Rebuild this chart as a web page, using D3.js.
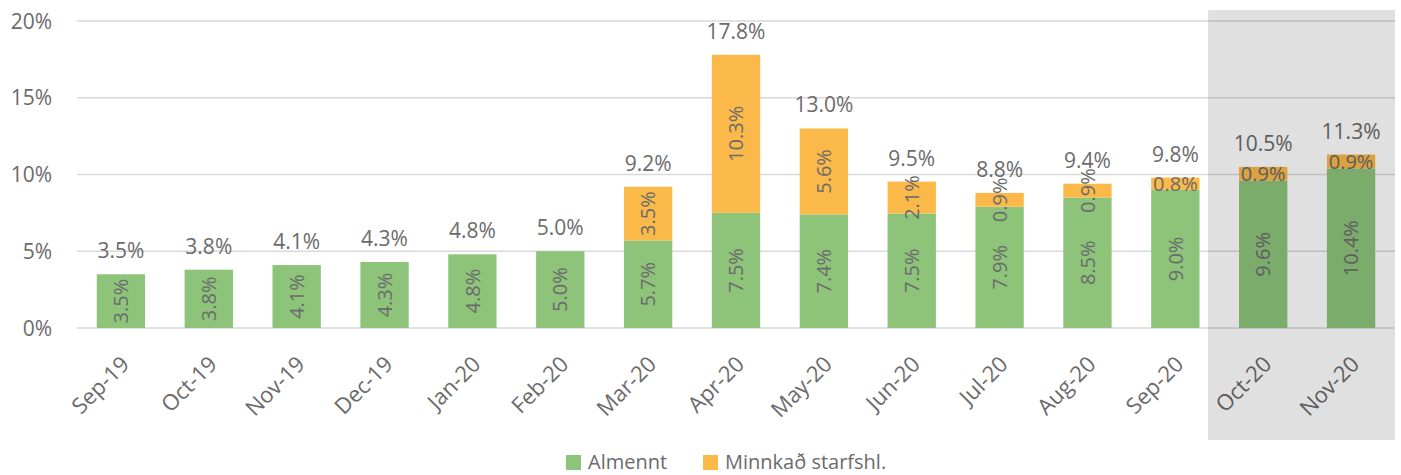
<!DOCTYPE html>
<html>
<head>
<meta charset="utf-8">
<script src="https://cdn.jsdelivr.net/npm/d3@7"></script>
<style>
  body { margin: 0; background: #fff; }
  text { font-family: "Open Sans", "Noto Sans", sans-serif; fill: #6b6b6b; }
</style>
</head>
<body>
<div id="vis"></div>
<script>
var months = ['Sep-19', 'Oct-19', 'Nov-19', 'Dec-19', 'Jan-20', 'Feb-20', 'Mar-20', 'Apr-20',
              'May-20', 'Jun-20', 'Jul-20', 'Aug-20', 'Sep-20', 'Oct-20', 'Nov-20'];
var almennt = [3.5, 3.8, 4.1, 4.3, 4.8, 5.0, 5.7, 7.5, 7.4, 7.46, 7.9, 8.5, 9.0, 9.6, 10.4];
var minnkad = [0, 0, 0, 0, 0, 0, 3.5, 10.3, 5.6, 2.08, 0.9, 0.9, 0.8, 0.9, 0.9];
var yTicks = [0, 5, 10, 15, 20];
var shaded = ['Oct-20', 'Nov-20'];
var seriesNames = ['Almennt', 'Minnkað starfshl.'];

var width = 1401, height = 475;
var margin = {left: 77, right: 6, top: 21, bottom: 147};
var drawWidth = width - margin.left - margin.right,
    drawHeight = height - margin.top - margin.bottom;

var colors = {green: '#8DC47A', orange: '#FBB94A'};
var fmt = d3.format('.1f');

var svg = d3.select('#vis').append('svg')
    .attr('width', width).attr('height', height);
var g = svg.append('g').attr('transform', `translate(${margin.left},${margin.top})`);

var xScale = d3.scaleBand().domain(months).range([0, drawWidth]).paddingInner(0.45).paddingOuter(0.225);
var yScale = d3.scaleLinear().domain([0, 20]).range([drawHeight, 0]);

// gridlines
g.selectAll('.grid').data(yTicks).enter().append('line')
    .attr('x1', 0).attr('x2', drawWidth)
    .attr('y1', d => yScale(d)).attr('y2', d => yScale(d))
    .attr('stroke', '#d9d9d9').attr('stroke-width', 1.5);

// y labels
g.selectAll('.ylab').data(yTicks).enter().append('text')
    .attr('x', -25).attr('y', d => yScale(d))
    .attr('dy', '0.36em').attr('text-anchor', 'end')
    .style('font-size', '21px')
    .text(d => d + '%');

var data = months.map((m, i) => ({m: m, a: almennt[i], b: minnkad[i], i: i}));

// bars
g.selectAll('.ga').data(data).enter().append('rect')
    .attr('x', d => xScale(d.m)).attr('width', xScale.bandwidth())
    .attr('y', d => yScale(d.a)).attr('height', d => yScale(0) - yScale(d.a))
    .attr('fill', colors.green);
g.selectAll('.gb').data(data.filter(d => d.b > 0)).enter().append('rect')
    .attr('x', d => xScale(d.m)).attr('width', xScale.bandwidth())
    .attr('y', d => yScale(d.a + d.b)).attr('height', d => yScale(d.a) - yScale(d.a + d.b))
    .attr('fill', colors.orange);

// green labels (rotated)
g.selectAll('.la').data(data).enter().append('text')
    .attr('transform', d => `translate(${xScale(d.m) + xScale.bandwidth() / 2},${yScale(d.a / 2)}) rotate(-90)`)
    .attr('text-anchor', 'middle').attr('dy', '0.36em')
    .style('font-size', '20px')
    .text(d => fmt(d.a) + '%');

// orange labels: rotated for tall ones, horizontal for the last three
g.selectAll('.lb').data(data.filter(d => d.b > 0)).enter().append('text')
    .attr('transform', d => {
        var cx = xScale(d.m) + xScale.bandwidth() / 2, cy = yScale(d.a + d.b / 2);
        return d.i >= 12 ? `translate(${cx},${cy})` : `translate(${cx},${cy}) rotate(-90)`;
    })
    .attr('text-anchor', 'middle').attr('dy', '0.36em')
    .style('font-size', '20px')
    .text(d => fmt(d.b) + '%');

// totals
g.selectAll('.lt').data(data).enter().append('text')
    .attr('x', d => xScale(d.m) + xScale.bandwidth() / 2)
    .attr('y', d => yScale(d.a + d.b) - 16)
    .attr('text-anchor', 'middle')
    .style('font-size', '21px')
    .text(d => fmt(d.a + d.b) + '%');

// x labels
g.selectAll('.xl').data(months).enter().append('text')
    .attr('transform', d => `translate(${xScale(d) + xScale.bandwidth() / 2 + 4},${drawHeight + 32}) rotate(-45)`)
    .attr('text-anchor', 'end').attr('dy', '0.36em')
    .style('font-size', '22px')
    .text(d => d);

// shaded forecast region (overlay)
var sx0 = xScale(shaded[0]) - 31;
svg.append('rect')
    .attr('x', margin.left + sx0).attr('y', 10)
    .attr('width', drawWidth - sx0).attr('height', 430)
    .attr('fill', '#000').attr('opacity', 0.12);

// legend
var legend = svg.append('g').attr('transform', 'translate(566,455)');
var lx = [0, 137];
[colors.green, colors.orange].forEach((c, i) => {
    legend.append('rect').attr('x', lx[i]).attr('y', 0).attr('width', 15).attr('height', 15).attr('fill', c);
    legend.append('text').attr('x', lx[i] + 22).attr('y', 14)
        .style('font-size', '20px').text(seriesNames[i]);
});
</script>
</body>
</html>
